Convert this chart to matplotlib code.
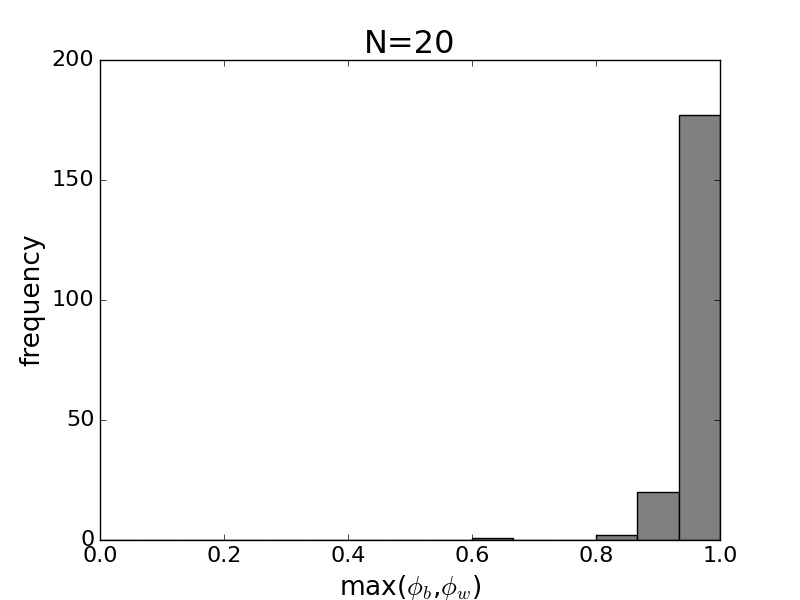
import matplotlib
matplotlib.use("Agg")
import matplotlib.pyplot as plt
import numpy as np

# histogram data: 15 equal bins over [0, 1]
bin_edges = np.linspace(0, 1, 16)
counts = [0, 0, 0, 0, 0, 0, 0, 0, 0, 1, 0, 0, 2, 20, 177]

plt.style.use("classic")
fig, ax = plt.subplots(figsize=(8, 6), dpi=100)
fig.patch.set_facecolor("white")

centers = (bin_edges[:-1] + bin_edges[1:]) / 2
ax.hist(centers, bins=bin_edges, weights=counts, color="gray", edgecolor="black")

ax.set_xlim(0, 1)
ax.set_ylim(0, 200)
ax.set_xticks([0.0, 0.2, 0.4, 0.6, 0.8, 1.0])
ax.set_yticks([0, 50, 100, 150, 200])
ax.tick_params(labelsize=16)

ax.set_title("N=20", fontsize=23)
ax.set_xlabel(r"max($\phi_b$,$\phi_w$)", fontsize=19)
ax.set_ylabel("frequency", fontsize=19)

fig.savefig("out.png", dpi=100, facecolor="white")
